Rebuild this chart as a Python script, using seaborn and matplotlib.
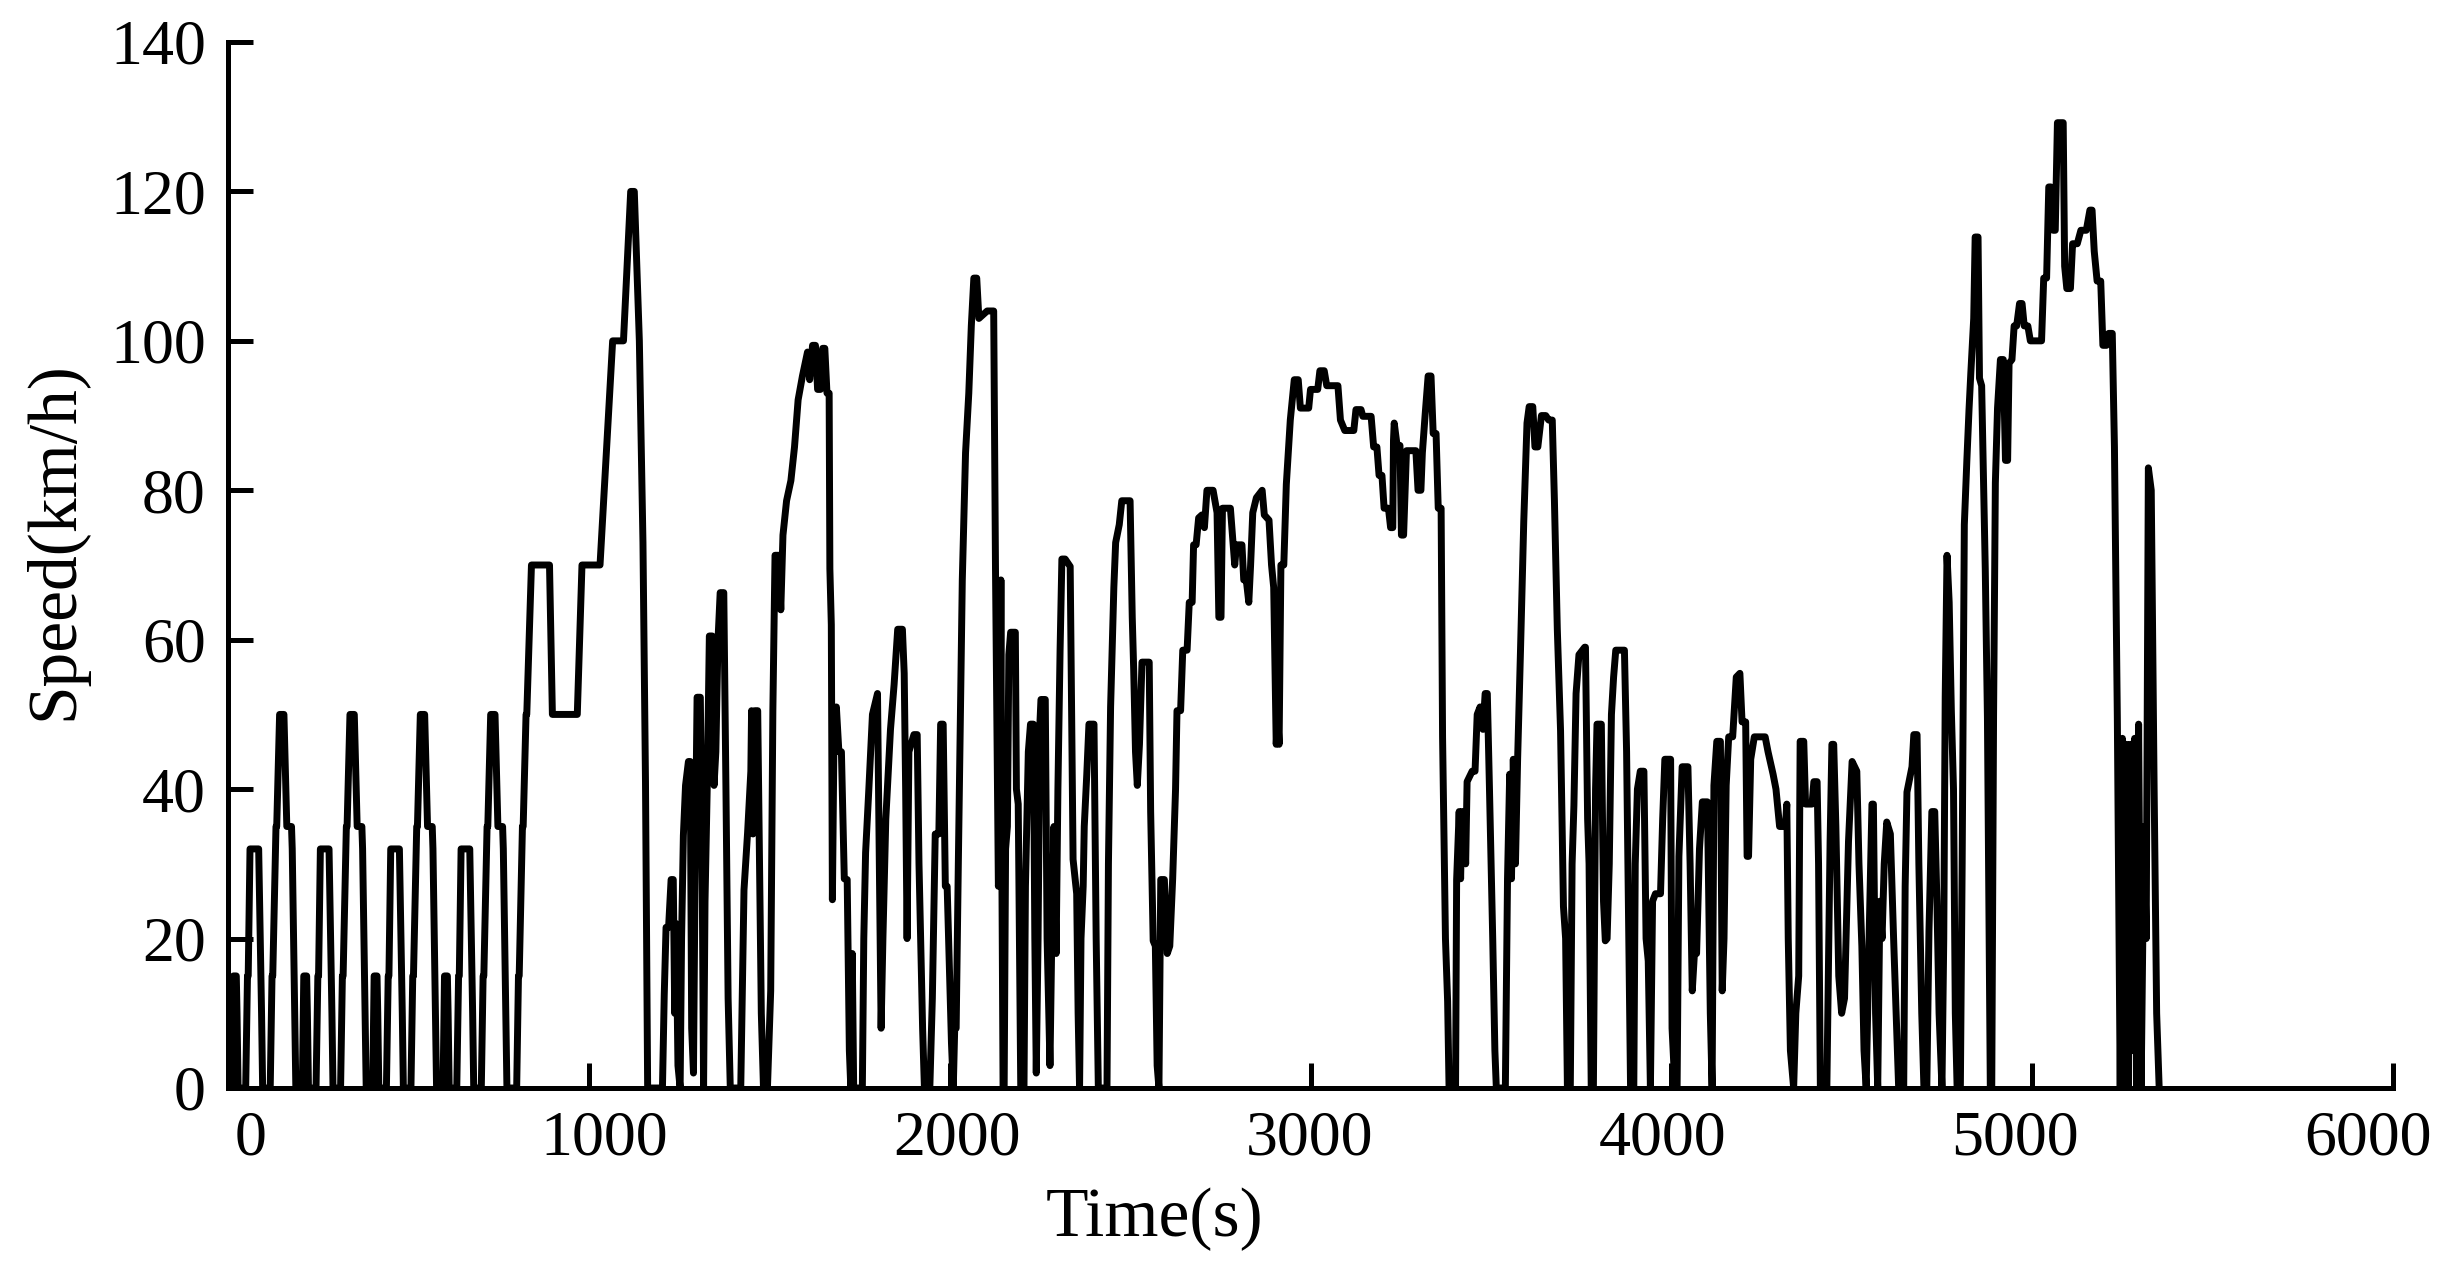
import matplotlib
matplotlib.use("Agg")
import matplotlib.pyplot as plt
import matplotlib.transforms as mtransforms
import seaborn as sns
import pandas as pd

# (time s, speed km/h) break points
ece_1 = [(0, 0), (11, 0), (15, 15), (23, 15), (25, 10), (28, 0), (49, 0), (54, 15), (56, 15),
         (61, 32), (85, 32), (93, 10), (96, 0), (117, 0), (122, 15), (124, 15), (133, 35),
         (135, 35), (143, 50), (155, 50), (163, 35), (176, 35), (178, 32), (185, 10), (188, 0)]
ece_2 = [(195, 0), (206, 0), (210, 15), (218, 15), (220, 10), (223, 0), (244, 0), (249, 15), (251, 15),
         (256, 32), (280, 32), (288, 10), (291, 0), (312, 0), (317, 15), (319, 15), (328, 35),
         (330, 35), (338, 50), (350, 50), (358, 35), (371, 35), (373, 32), (380, 10), (383, 0)]
ece_3 = [(390, 0), (401, 0), (405, 15), (413, 15), (415, 10), (418, 0), (439, 0), (444, 15), (446, 15),
         (451, 32), (475, 32), (483, 10), (486, 0), (507, 0), (512, 15), (514, 15), (523, 35),
         (525, 35), (533, 50), (545, 50), (553, 35), (566, 35), (568, 32), (575, 10), (578, 0)]
ece_4 = [(585, 0), (596, 0), (600, 15), (608, 15), (610, 10), (613, 0), (634, 0), (639, 15), (641, 15),
         (646, 32), (670, 32), (678, 10), (681, 0), (702, 0), (707, 15), (709, 15), (718, 35),
         (720, 35), (728, 50), (740, 50), (748, 35), (761, 35), (763, 32), (770, 10), (773, 0)]
eudc = [(780, 0), (800, 0), (805, 15), (807, 15), (816, 35), (818, 35), (826, 50), (828, 50),
        (841, 70), (891, 70), (899, 50), (968, 50), (981, 70), (1031, 70), (1066, 100), (1096, 100),
        (1116, 120), (1126, 120), (1140, 100), (1150, 73), (1157, 41), (1163, 0)]
seg_a = [(1204, 0), (1209, 12.5), (1214, 21.5), (1221, 21.5), (1228, 27.9), (1234, 27.9), (1238, 10),
         (1242, 22), (1247, 3), (1253, 0), (1257, 20), (1262, 33.8), (1268, 40.5), (1276, 43.7),
         (1281, 43.7), (1285, 8), (1290, 2), (1294, 26), (1300, 52.3), (1309, 52.3), (1314, 30),
         (1318, 0), (1322, 25), (1328, 40), (1334, 60.5), (1342, 60.5), (1347, 40.5), (1352, 45),
         (1358, 60), (1364, 66.3), (1374, 66.3), (1380, 40), (1386, 12), (1392, 0), (1421, 0),
         (1430, 26.5), (1440, 34.2), (1449, 42.4), (1451, 50.5), (1455, 34), (1460, 50.5), (1468, 50.5),
         (1472, 33.8), (1478, 10), (1484, 0), (1495, 0), (1504, 13), (1510, 50.5), (1516, 71.3),
         (1526, 71.3), (1532, 64), (1538, 74), (1548, 78.6), (1560, 81.3), (1570, 85.8), (1580, 92.1),
         (1592, 95.3), (1606, 98.5), (1612, 94.8), (1620, 99.4), (1628, 99.4), (1634, 93.5),
         (1642, 93.5), (1648, 99), (1654, 99), (1660, 93), (1666, 93), (1668, 69.5), (1672, 62),
         (1675, 25.2), (1680, 50), (1686, 51), (1693, 45), (1700, 45), (1708, 28), (1716, 27.9),
         (1722, 5), (1726, 0), (1730, 18), (1734, 0)]
seg_b = [(1744, 0), (1758, 0), (1762, 20), (1767, 31.5), (1776, 40), (1786, 50), (1800, 52.8),
         (1805, 30), (1810, 8), (1815, 20), (1823, 36), (1836, 48), (1846, 54), (1856, 61.4),
         (1869, 61.4), (1874, 55.5), (1878, 40), (1882, 20), (1887, 45), (1901, 47.3), (1910, 47.3),
         (1915, 30), (1925, 8), (1930, 0), (1945, 0), (1952, 12), (1960, 34), (1970, 34), (1975, 48.7),
         (1982, 48.7), (1988, 27), (1993, 27), (2005, 6), (2010, 0), (2014, 8), (2018, 8), (2024, 30),
         (2035, 68), (2044, 85), (2053, 93), (2060, 102), (2067, 108.4), (2075, 108.4), (2081, 103),
         (2104, 104), (2122, 104), (2127, 69.5), (2135, 27), (2139, 30), (2142, 68), (2144, 35),
         (2148, 0)]
seg_c = [(2151, 0), (2155, 32), (2160, 35), (2164, 58), (2169, 61), (2182, 61), (2185, 40), (2190, 38),
         (2197, 0), (2206, 0), (2210, 27), (2218, 45), (2224, 48.7), (2232, 48.7), (2236, 20), (2240, 2),
         (2245, 20), (2250, 48.7), (2253, 52), (2265, 52), (2270, 20), (2278, 3), (2283, 20), (2289, 35),
         (2295, 18), (2300, 40), (2306, 58.6), (2311, 70.8), (2320, 70.8), (2334, 69.8), (2338, 50),
         (2342, 30.6), (2352, 26), (2356, 10), (2360, 0), (2364, 20), (2370, 27), (2373, 35), (2380, 42),
         (2386, 48.7), (2400, 48.7), (2406, 20), (2412, 0), (2436, 0), (2440, 30), (2446, 51), (2455, 67),
         (2460, 73), (2470, 75.4), (2477, 78.6), (2500, 78.6), (2506, 63), (2510, 56), (2515, 45),
         (2520, 40.5), (2526, 46), (2533, 57), (2553, 57), (2557, 37), (2564, 19.7), (2570, 19),
         (2575, 3), (2580, 0), (2585, 27.9), (2595, 27.9), (2603, 18), (2610, 19), (2618, 28), (2626, 40),
         (2630, 50.5), (2640, 50.5), (2646, 58.6), (2658, 58.6), (2664, 65), (2672, 65), (2676, 72.7),
         (2683, 72.7), (2690, 76.3)]
seg_d = [(2699, 76.7), (2706, 75), (2713, 80), (2730, 80), (2741, 77), (2746, 63), (2752, 63),
         (2756, 77.6), (2778, 77.6), (2790, 70), (2795, 72.7), (2810, 72.7), (2815, 68), (2822, 68),
         (2829, 65), (2834, 70), (2840, 77), (2850, 79), (2866, 80), (2872, 76.7), (2885, 76), (2892, 70),
         (2898, 67), (2905, 46), (2909, 50), (2913, 46), (2918, 70), (2926, 70), (2933, 80.8),
         (2944, 89.4), (2955, 94.8), (2966, 94.8), (2972, 91), (2995, 91), (3000, 93.5), (3020, 93.5),
         (3026, 96), (3038, 96), (3045, 94), (3076, 94), (3083, 89.4), (3095, 88), (3120, 88),
         (3126, 90.8), (3140, 90.8), (3145, 89.9), (3168, 89.9), (3175, 85.8), (3184, 85.8), (3190, 82),
         (3198, 82), (3204, 77.6), (3216, 77.6), (3222, 75), (3228, 75), (3230, 86.7), (3232, 89),
         (3240, 86), (3248, 86), (3252, 74), (3258, 74), (3266, 85.3), (3292, 85.3), (3298, 80),
         (3306, 80), (3310, 85), (3318, 90.3), (3326, 95.3), (3334, 95.3), (3340, 87.6), (3348, 87.6),
         (3354, 77.6), (3362, 77.6), (3366, 47), (3374, 20), (3380, 11.6), (3384, 0)]
seg_e = [(3402, 0), (3405, 27.9), (3412, 37), (3416, 28), (3420, 37), (3426, 37), (3430, 30), (3434, 41),
         (3448, 42.4), (3456, 42.4), (3462, 50), (3470, 51), (3478, 48), (3484, 52.8), (3490, 52.8),
         (3496, 40), (3505, 20), (3511, 5), (3515, 0), (3540, 0), (3546, 28), (3552, 42), (3557, 28),
         (3562, 44), (3568, 30), (3574, 44), (3582, 58.6), (3591, 75.8), (3600, 89), (3606, 91.2),
         (3616, 91.2), (3622, 85.8), (3630, 85.8), (3640, 90), (3652, 90), (3660, 89.4), (3670, 89.4),
         (3676, 78.6), (3684, 61.4), (3693, 47.8), (3701, 24.3), (3707, 20), (3712, 0), (3720, 0),
         (3725, 30), (3730, 37.8), (3736, 52.8), (3744, 58), (3760, 59)]
seg_f = [(3762, 59), (3768, 36), (3772, 30), (3778, 0), (3784, 0), (3790, 40), (3794, 48.7), (3806, 48.7),
         (3812, 25), (3817, 19.7), (3822, 20), (3828, 30), (3834, 50), (3840, 55), (3846, 58.6),
         (3870, 58.6), (3876, 45), (3882, 20), (3887, 0), (3896, 0), (3900, 30), (3906, 40), (3914, 42.4),
         (3924, 42.4), (3930, 20), (3936, 17), (3942, 0), (3948, 25), (3956, 26), (3970, 26), (3976, 36),
         (3982, 44), (3998, 44), (4002, 8), (4010, 0), (4016, 0), (4021, 31), (4030, 43), (4046, 43),
         (4052, 30), (4058, 13), (4064, 18), (4070, 18), (4078, 32), (4086, 38.3), (4100, 38.3),
         (4108, 10), (4113, 0), (4118, 40.5), (4126, 46.4), (4136, 46.4), (4141, 13), (4146, 20),
         (4152, 40.5), (4159, 47), (4170, 47), (4180, 55), (4190, 55.5), (4196, 49), (4206, 49),
         (4210, 31), (4214, 31), (4220, 44), (4230, 47), (4260, 47), (4268, 45), (4282, 42), (4290, 40),
         (4300, 35), (4316, 35)]
seg_g = [(4320, 38), (4324, 20), (4330, 5), (4339, 0), (4345, 10), (4353, 15), (4357, 46.4), (4367, 46.4),
         (4372, 38), (4390, 38), (4395, 41), (4404, 41), (4408, 30), (4413, 0), (4431, 0), (4440, 33),
         (4445, 46), (4450, 46), (4456, 35), (4464, 15), (4472, 10), (4480, 12), (4491, 33), (4501, 43.7),
         (4514, 42.4), (4520, 30), (4528, 19), (4534, 5), (4540, 0), (4548, 20), (4556, 38), (4560, 38),
         (4566, 10), (4572, 0), (4578, 25), (4584, 20), (4590, 30), (4597, 35.6), (4607, 34), (4616, 20),
         (4621, 13), (4630, 0), (4644, 0), (4648, 27), (4653, 39.6), (4667, 43), (4672, 47.3),
         (4681, 47.3), (4686, 30), (4694, 10), (4700, 0), (4708, 0), (4714, 21), (4722, 37), (4730, 37),
         (4736, 25), (4742, 10), (4750, 0), (4755, 20), (4759, 52.3), (4764, 71.3), (4770, 65),
         (4776, 50.5), (4782, 40), (4787, 10), (4792, 0), (4801, 0), (4806, 30), (4812, 75.4), (4819, 84),
         (4825, 90.8), (4830, 95.7), (4838, 103), (4842, 113.9), (4850, 113.9), (4854, 95)]
seg_h = [(4860, 94), (4870, 69.5), (4876, 49.6), (4884, 0), (4888, 0), (4893, 49.6), (4898, 81), (4904, 91),
         (4912, 97.5), (4920, 97.5), (4926, 84), (4932, 84), (4936, 97), (4944, 97.5), (4950, 102),
         (4957, 102), (4965, 105), (4972, 105), (4978, 102), (4988, 102), (4995, 100), (5026, 100),
         (5032, 108.4), (5040, 108.4), (5046, 120.6), (5052, 120.6), (5058, 114.8), (5064, 114.8),
         (5070, 129.2), (5086, 129.2), (5090, 110), (5096, 107), (5106, 107), (5112, 113), (5125, 113),
         (5135, 114.8), (5150, 114.8), (5160, 117.5), (5166, 117.5), (5172, 112), (5180, 108), (5190, 108),
         (5196, 99.4), (5206, 99.4), (5212, 101), (5222, 101), (5228, 85.8), (5236, 49.6), (5244, 0),
         (5250, 46.8), (5255, 0), (5262, 46), (5267, 0), (5272, 46), (5277, 5), (5284, 46.8), (5290, 0),
         (5295, 48.7), (5302, 0), (5310, 35), (5316, 20), (5322, 83), (5330, 80), (5338, 40), (5345, 10),
         (5352, 0)]

segments = [ece_1, ece_2, ece_3, ece_4, eudc, seg_a, seg_b, seg_c, seg_d, seg_e, seg_f, seg_g, seg_h]
rows = [p for seg in segments for p in seg]
df = pd.DataFrame(rows, columns=["time", "speed"])

sns.set_style("ticks")
plt.rcParams["font.family"] = ["Liberation Serif", "DejaVu Serif"]

W, H = 2451, 1270
fig = plt.figure(figsize=(W / 100, H / 100), dpi=100)
ax = fig.add_axes([228 / W, 1 - 1088 / H, (2393 - 228) / W, (1088 - 42) / H])

sns.lineplot(data=df, x="time", y="speed", color="black", linewidth=5,
             estimator=None, sort=False, ax=ax)

ax.set_xlim(0, 6000)
ax.set_ylim(0, 140)
ax.set_xticks(range(0, 6001, 1000))
ax.set_yticks(range(0, 141, 20))
sns.despine(ax=ax)
for s in ["left", "bottom"]:
    ax.spines[s].set_linewidth(3.6)
    ax.spines[s].set_color("black")
ax.tick_params(direction="in", length=18, width=3.6, labelsize=46, pad=16, colors="black")

# the time labels sit a little inward of their ticks in the original
for i, lab in enumerate(ax.get_xticklabels()):
    shift = (23 - 8 * i) / 100
    lab.set_transform(lab.get_transform() + mtransforms.ScaledTranslation(shift, 0, fig.dpi_scale_trans))

ax.set_xlabel("Time(s)", fontsize=50, color="black")
ax.set_ylabel("Speed(km/h)", fontsize=50, color="black")
ax.xaxis.set_label_coords(0.428, -0.095)
ax.yaxis.set_label_coords(-0.065, 0.523)

fig.savefig("out.png", dpi=100)
